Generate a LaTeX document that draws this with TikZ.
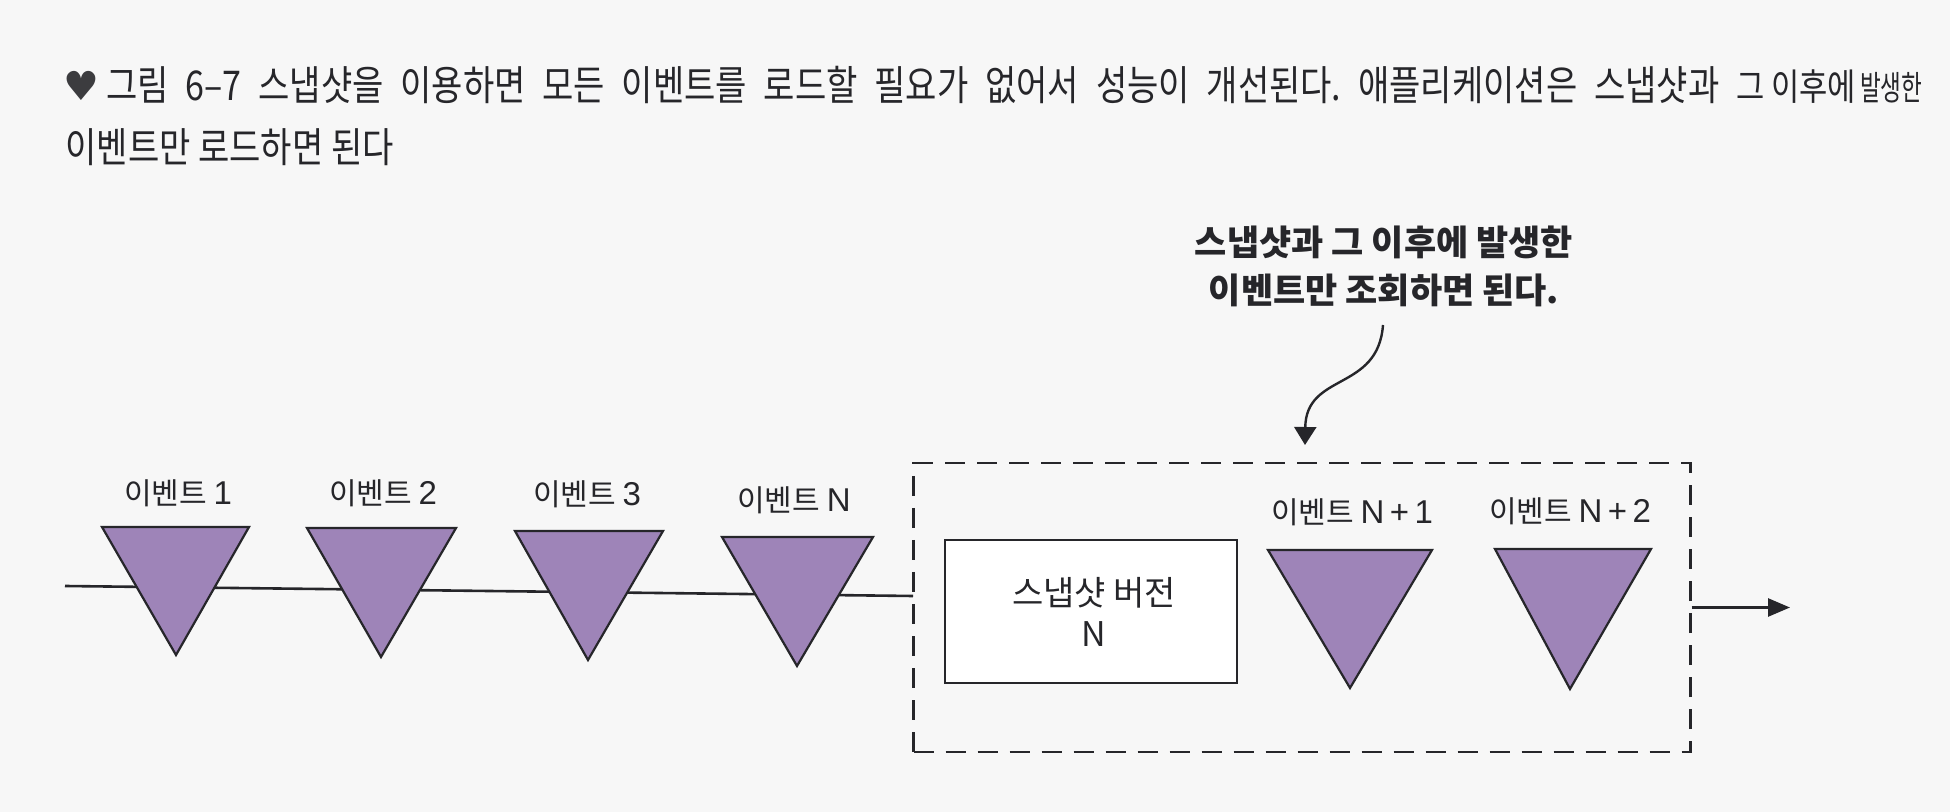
\documentclass[tikz,border=0pt]{standalone}
\usepackage{fontspec}
\newfontfamily\kr{Noto Sans CJK KR}
\newfontfamily\capfont{Noto Sans CJK KR}[FakeStretch=0.83]
\newfontfamily\lat{Liberation Sans}
\newfontfamily\symfont{DejaVu Sans}
\usetikzlibrary{arrows.meta}
\definecolor{evpurple}{RGB}{158,132,184}
\definecolor{ink}{RGB}{38,38,42}
\definecolor{paper}{RGB}{247,247,247}
\newcommand{\evl}[1]{이벤트 {\lat\fontsize{16.5}{18}\selectfont #1}}
\frenchspacing
\begin{document}
\begin{tikzpicture}[x=0.5pt,y=-0.5pt,
  evtri/.style={fill=evpurple,draw=ink,line width=1.1pt,line join=miter},
  evlabel/.style={font=\kr\fontsize{15}{18}\selectfont,text=ink,inner sep=0pt},
  captext/.style={font=\capfont\fontsize{20.5}{24}\selectfont,text=ink,inner sep=0pt,anchor=base west},
  timeline/.style={draw=ink,line width=1.3pt},
  groupbox/.style={draw=ink,line width=1.2pt,dash pattern=on 10pt off 6pt,minimum width=388.5pt,minimum height=144.5pt,inner sep=0pt},
  snapbox/.style={draw=ink,line width=1.2pt,fill=white,minimum width=146pt,minimum height=71.5pt,inner sep=0pt},
  snaptext/.style={align=center,font=\kr\fontsize{17}{20.5}\selectfont,text=ink,inner sep=0pt},
  callout/.style={font=\kr\bfseries\fontsize{17.5}{24}\selectfont,text=ink,align=center,inner sep=0pt}
]
\useasboundingbox (0,0) rectangle (1950,812);
\fill[paper] (0,0) rectangle (1950,812);

% caption
\node[font=\symfont\fontsize{20}{22}\selectfont,text=ink!90,inner sep=0pt,anchor=base west] (heart) at (63,101) {♥};
\node[captext] (cap1) at (106,101) {\makebox[908pt][s]{그림 6–7 스냅샷을 이용하면 모든 이벤트를 로드할 필요가 없어서 성능이 개선된다. 애플리케이션은 스냅샷과 \mbox{\fontsize{18.5}{20}\selectfont 그 이후에\hspace{2pt}\fontsize{17}{20}\selectfont\scalebox{0.8}[1]{발생한}}}};
\node[captext] (cap2) at (65,163) {이벤트만 로드하면 된다};

% callout
\node[callout] (note) at (1384,266) {스냅샷과 그 이후에 발생한\\이벤트만 조회하면 된다.};
\coordinate (cs) at (1383,325);
\coordinate (ce) at (1305,445);
\draw[draw=ink,line width=1.2pt,-{Triangle[length=9pt,width=11pt]}] (cs) .. controls (1378,392) and (1306,372) .. (ce);

% timeline
\coordinate (lstart) at (65,586);
\coordinate (lend) at (913,596);
\draw[timeline] (lstart) -- (lend);

% group box
\node[groupbox] (group) at (1302,607.5) {};
\coordinate (aend) at (1790,607.5);
\draw[timeline,-{Triangle[length=11pt,width=9pt]}] (group.east) -- (aend);

% triangles
\draw[evtri] (102,527) -- (249,527) -- (176,655) -- cycle;
\draw[evtri] (307,528) -- (456,528) -- (381,657) -- cycle;
\draw[evtri] (515,531) -- (663,531) -- (588,660) -- cycle;
\draw[evtri] (722,537) -- (873,537) -- (797,666) -- cycle;
\draw[evtri] (1268,550) -- (1432,550) -- (1350,688) -- cycle;
\draw[evtri] (1495,549) -- (1651,549) -- (1570,689) -- cycle;

% labels
\node[evlabel] (e1) at (178,493) {\evl{1}};
\node[evlabel] (e2) at (383,493) {\evl{2}};
\node[evlabel] (e3) at (587,494) {\evl{3}};
\node[evlabel] (eN) at (794,500) {\evl{N}};
\node[evlabel] (eN1) at (1352,512) {\evl{N\,+\,1}};
\node[evlabel] (eN2) at (1570,511) {\evl{N\,+\,2}};

% snapshot
\node[snapbox] (snap) at (1091,611.5) {};
\node[snaptext] (snaptxt) at (1094,612) {스냅샷 버전\\N};
\end{tikzpicture}
\end{document}
